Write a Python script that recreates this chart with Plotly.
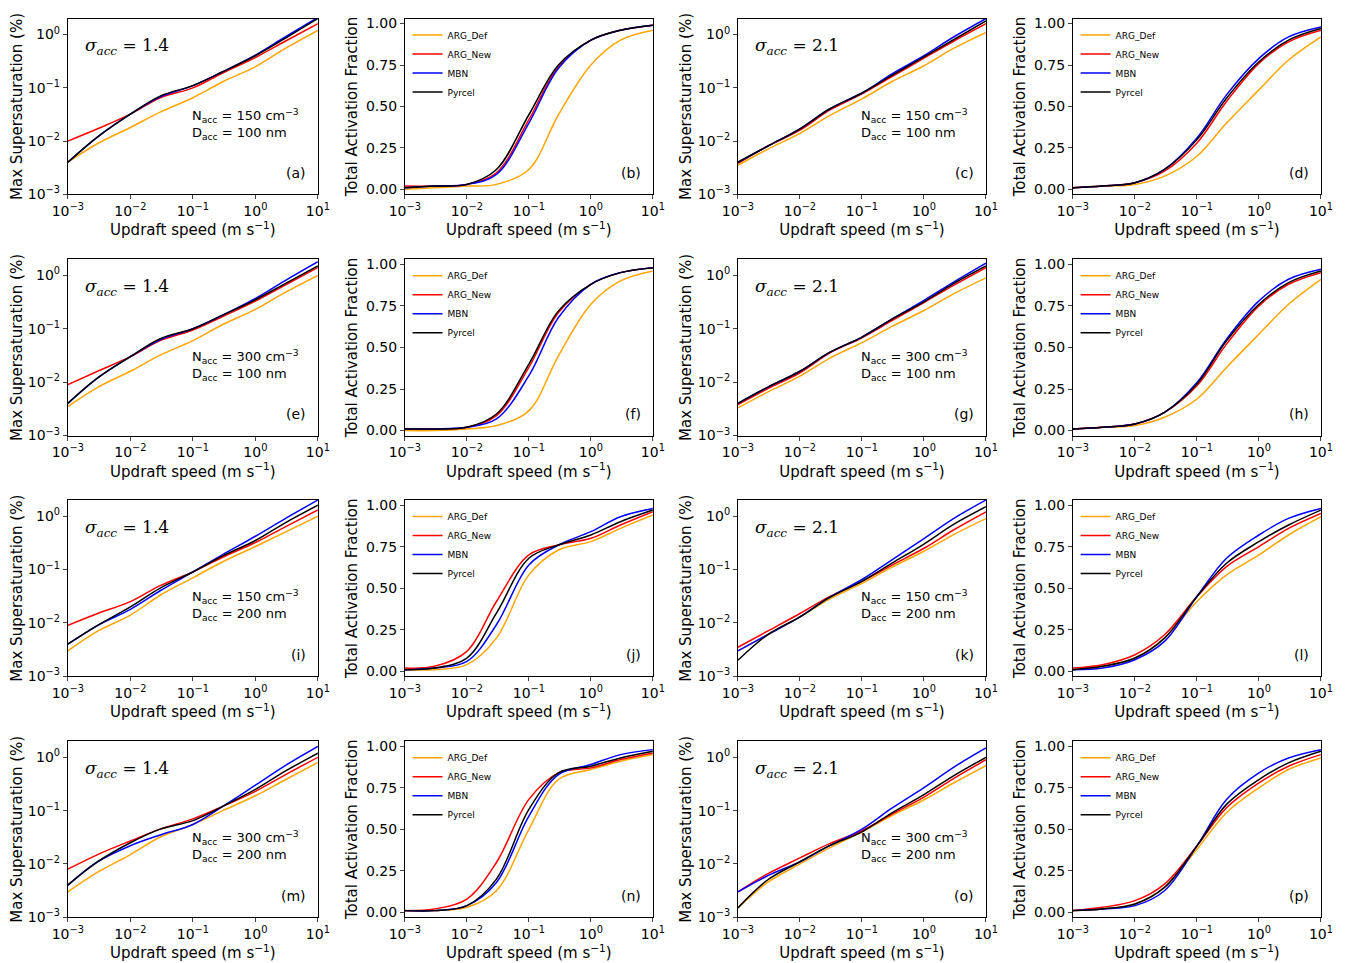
import plotly.graph_objects as go

w = [1e-3, 3e-3, 1e-2, 3e-2, 1e-1, 3e-1, 1, 3, 10]

# max supersaturation (%) panels: a c e g i k m o
a_def = [0.004, 0.009, 0.018, 0.035, 0.065, 0.13, 0.25, 0.55, 1.2]
a_new = [0.01, 0.017, 0.032, 0.065, 0.1, 0.19, 0.37, 0.75, 1.6]
a_mbn = [0.004, 0.012, 0.032, 0.068, 0.11, 0.2, 0.41, 0.9, 2.1]
a_pyr = [0.004, 0.012, 0.032, 0.07, 0.11, 0.2, 0.4, 0.85, 2.0]
c_def = [0.0035, 0.007, 0.014, 0.03, 0.062, 0.13, 0.26, 0.55, 1.1]
c_new = [0.0038, 0.008, 0.016, 0.038, 0.077, 0.16, 0.36, 0.75, 1.6]
c_mbn = [0.004, 0.008, 0.017, 0.04, 0.08, 0.18, 0.4, 0.9, 2.0]
c_pyr = [0.004, 0.008, 0.017, 0.04, 0.08, 0.17, 0.38, 0.8, 1.8]
e_def = [0.0035, 0.008, 0.016, 0.032, 0.06, 0.12, 0.23, 0.48, 1.0]
e_new = [0.009, 0.016, 0.03, 0.06, 0.095, 0.17, 0.33, 0.66, 1.4]
e_mbn = [0.004, 0.012, 0.03, 0.062, 0.1, 0.18, 0.37, 0.8, 1.8]
e_pyr = [0.004, 0.012, 0.03, 0.065, 0.1, 0.18, 0.35, 0.7, 1.5]
g_def = [0.0033, 0.0065, 0.013, 0.028, 0.055, 0.11, 0.22, 0.45, 0.9]
g_new = [0.0038, 0.0075, 0.015, 0.035, 0.068, 0.14, 0.31, 0.65, 1.4]
g_mbn = [0.004, 0.008, 0.016, 0.036, 0.07, 0.15, 0.34, 0.75, 1.7]
g_pyr = [0.004, 0.008, 0.016, 0.036, 0.07, 0.15, 0.32, 0.7, 1.5]
i_def = [0.003, 0.007, 0.014, 0.033, 0.07, 0.14, 0.27, 0.5, 1.0]
i_new = [0.009, 0.015, 0.025, 0.05, 0.09, 0.17, 0.32, 0.63, 1.3]
i_mbn = [0.004, 0.009, 0.018, 0.04, 0.09, 0.19, 0.42, 0.9, 2.0]
i_pyr = [0.004, 0.009, 0.02, 0.045, 0.09, 0.18, 0.35, 0.75, 1.6]
k_def = [0.003, 0.006, 0.013, 0.028, 0.055, 0.11, 0.22, 0.45, 0.9]
k_new = [0.0035, 0.007, 0.015, 0.031, 0.06, 0.12, 0.25, 0.55, 1.2]
k_mbn = [0.003, 0.006, 0.013, 0.03, 0.065, 0.15, 0.38, 0.9, 2.0]
k_pyr = [0.002, 0.006, 0.013, 0.03, 0.06, 0.13, 0.3, 0.7, 1.5]
m_def = [0.003, 0.007, 0.015, 0.032, 0.055, 0.1, 0.19, 0.38, 0.8]
m_new = [0.008, 0.015, 0.027, 0.045, 0.07, 0.12, 0.23, 0.47, 1.0]
m_mbn = [0.004, 0.011, 0.022, 0.035, 0.055, 0.12, 0.3, 0.7, 1.6]
m_pyr = [0.004, 0.011, 0.025, 0.045, 0.065, 0.12, 0.25, 0.55, 1.2]
o_def = [0.0015, 0.0045, 0.01, 0.02, 0.04, 0.08, 0.16, 0.33, 0.7]
o_new = [0.003, 0.0065, 0.013, 0.024, 0.042, 0.085, 0.18, 0.4, 0.9]
o_mbn = [0.003, 0.006, 0.011, 0.022, 0.045, 0.11, 0.27, 0.65, 1.5]
o_pyr = [0.0015, 0.005, 0.011, 0.022, 0.04, 0.09, 0.2, 0.45, 1.0]

# total activation fraction panels: b d f h j l n p
b_def = [0.0, 0.01, 0.02, 0.03, 0.12, 0.45, 0.75, 0.9, 0.96]
b_new = [0.02, 0.02, 0.03, 0.1, 0.42, 0.74, 0.9, 0.96, 0.99]
b_mbn = [0.01, 0.02, 0.03, 0.09, 0.4, 0.73, 0.9, 0.96, 0.99]
b_pyr = [0.01, 0.02, 0.03, 0.12, 0.45, 0.75, 0.9, 0.96, 0.99]
d_def = [0.01, 0.02, 0.03, 0.08, 0.2, 0.4, 0.6, 0.78, 0.92]
d_new = [0.01, 0.02, 0.04, 0.11, 0.28, 0.53, 0.76, 0.89, 0.96]
d_mbn = [0.01, 0.02, 0.04, 0.12, 0.31, 0.57, 0.79, 0.92, 0.98]
d_pyr = [0.01, 0.02, 0.04, 0.12, 0.3, 0.55, 0.77, 0.9, 0.97]
f_def = [0.0, 0.0, 0.01, 0.03, 0.12, 0.45, 0.76, 0.9, 0.96]
f_new = [0.01, 0.01, 0.02, 0.09, 0.38, 0.71, 0.88, 0.95, 0.98]
f_mbn = [0.01, 0.01, 0.02, 0.07, 0.33, 0.68, 0.88, 0.95, 0.98]
f_pyr = [0.01, 0.01, 0.02, 0.1, 0.4, 0.72, 0.88, 0.95, 0.98]
h_def = [0.01, 0.02, 0.03, 0.08, 0.19, 0.38, 0.58, 0.76, 0.91]
h_new = [0.01, 0.02, 0.04, 0.11, 0.27, 0.52, 0.75, 0.88, 0.95]
h_mbn = [0.01, 0.02, 0.04, 0.11, 0.29, 0.55, 0.78, 0.91, 0.97]
h_pyr = [0.01, 0.02, 0.04, 0.11, 0.28, 0.54, 0.76, 0.89, 0.96]
j_def = [0.01, 0.01, 0.04, 0.2, 0.58, 0.73, 0.78, 0.86, 0.94]
j_new = [0.02, 0.03, 0.12, 0.42, 0.7, 0.76, 0.8, 0.88, 0.96]
j_mbn = [0.01, 0.02, 0.06, 0.28, 0.64, 0.76, 0.84, 0.93, 0.98]
j_pyr = [0.01, 0.02, 0.08, 0.35, 0.68, 0.76, 0.82, 0.9, 0.97]
l_def = [0.01, 0.03, 0.08, 0.2, 0.42, 0.58, 0.7, 0.82, 0.93]
l_new = [0.02, 0.04, 0.1, 0.22, 0.45, 0.63, 0.75, 0.86, 0.95]
l_mbn = [0.01, 0.02, 0.07, 0.18, 0.45, 0.68, 0.82, 0.92, 0.98]
l_pyr = [0.01, 0.03, 0.08, 0.2, 0.45, 0.65, 0.78, 0.88, 0.97]
n_def = [0.01, 0.01, 0.03, 0.13, 0.5, 0.8, 0.86, 0.91, 0.95]
n_new = [0.01, 0.02, 0.08, 0.3, 0.68, 0.84, 0.87, 0.92, 0.96]
n_mbn = [0.01, 0.01, 0.04, 0.18, 0.58, 0.83, 0.89, 0.95, 0.98]
n_pyr = [0.01, 0.01, 0.04, 0.2, 0.62, 0.84, 0.88, 0.93, 0.97]
p_def = [0.01, 0.02, 0.05, 0.15, 0.38, 0.6, 0.75, 0.86, 0.93]
p_new = [0.01, 0.03, 0.07, 0.17, 0.4, 0.63, 0.78, 0.88, 0.95]
p_mbn = [0.01, 0.02, 0.04, 0.13, 0.4, 0.68, 0.84, 0.93, 0.98]
p_pyr = [0.01, 0.02, 0.05, 0.15, 0.4, 0.65, 0.8, 0.9, 0.97]

smax_panels = [(a_def, a_new, a_mbn, a_pyr), (c_def, c_new, c_mbn, c_pyr),
               (e_def, e_new, e_mbn, e_pyr), (g_def, g_new, g_mbn, g_pyr),
               (i_def, i_new, i_mbn, i_pyr), (k_def, k_new, k_mbn, k_pyr),
               (m_def, m_new, m_mbn, m_pyr), (o_def, o_new, o_mbn, o_pyr)]
act_panels = [(b_def, b_new, b_mbn, b_pyr), (d_def, d_new, d_mbn, d_pyr),
              (f_def, f_new, f_mbn, f_pyr), (h_def, h_new, h_mbn, h_pyr),
              (j_def, j_new, j_mbn, j_pyr), (l_def, l_new, l_mbn, l_pyr),
              (n_def, n_new, n_mbn, n_pyr), (p_def, p_new, p_mbn, p_pyr)]

names = ['ARG_Def', 'ARG_New', 'MBN', 'Pyrcel']
colors = ['orange', 'red', 'blue', 'black']
sigmas = ['1.4', '2.1']
n_acc = ['150', '300', '150', '300']
d_acc = ['100', '100', '200', '200']
letters = 'abcdefghijklmnop'

xdom = [(0.0444, 0.2299), (0.2944, 0.4784), (0.5415, 0.7255), (0.790, 0.974)]
ydom = [(0.8065, 0.989), (0.556, 0.739), (0.306, 0.489), (0.0558, 0.2385)]

dec_vals = [1e-3, 1e-2, 1e-1, 1e0, 1e1]
dec_text = ['10<sup>−3</sup>', '10<sup>−2</sup>', '10<sup>−1</sup>', '10<sup>0</sup>', '10<sup>1</sup>']

fig = go.Figure()
layout = dict(width=1348, height=963, margin=dict(l=0, r=0, t=0, b=0),
              plot_bgcolor='white', paper_bgcolor='white',
              font=dict(family='DejaVu Sans', color='black', size=14),
              annotations=[])
lab = dict(family='DejaVu Sans', size=15, color='black')
tickf = dict(family='DejaVu Sans', size=14, color='black')

for r in range(4):
    for c in range(4):
        idx = r * 4 + c
        n = idx + 1
        ax = '' if n == 1 else str(n)
        is_act = c % 2 == 1
        li = r * 2 + c // 2
        pan = (act_panels if is_act else smax_panels)[li]
        leg = 'legend' if li == 0 else 'legend' + str(li + 1)
        for k in range(4):
            fig.add_trace(go.Scatter(
                x=w, y=pan[k], mode='lines', name=names[k],
                line=dict(color=colors[k], width=1.5, shape='spline'),
                xaxis='x' + ax, yaxis='y' + ax,
                showlegend=is_act, legend=leg))
        layout['xaxis' + ax] = dict(
            domain=list(xdom[c]), anchor='y' + ax, type='log', range=[-3, 1],
            tickvals=dec_vals, ticktext=dec_text, ticks='outside', ticklen=4,
            showline=True, linecolor='black', mirror=True, showgrid=False, automargin=False,
            tickfont=tickf, title=dict(text='Updraft speed (m s<sup>−1</sup>)', font=lab, standoff=0))
        if is_act:
            layout['yaxis' + ax] = dict(
                domain=list(ydom[r]), anchor='x' + ax, range=[-0.03, 1.03],
                tickvals=[0, 0.25, 0.5, 0.75, 1.0], ticktext=['0.00', '0.25', '0.50', '0.75', '1.00'],
                ticks='outside', ticklen=4, showline=True, linecolor='black', mirror=True,
                showgrid=False, zeroline=False, tickfont=tickf, automargin=False,
                title=dict(text='Total Activation Fraction', font=lab, standoff=4))
            layout[leg] = dict(
                x=xdom[c][0] + 0.002, y=ydom[r][1] - 0.002, xanchor='left', yanchor='top',
                bgcolor='rgba(255,255,255,0)', font=dict(size=9, family='DejaVu Sans'),
                itemwidth=30, tracegroupgap=0)
        else:
            layout['yaxis' + ax] = dict(
                domain=list(ydom[r]), anchor='x' + ax, type='log', range=[-3, 0.3],
                tickvals=[1e-3, 1e-2, 1e-1, 1e0], ticktext=dec_text[:4],
                ticks='outside', ticklen=4, showline=True, linecolor='black', mirror=True,
                showgrid=False, tickfont=tickf, automargin=False,
                title=dict(text='Max Supersaturation (%)', font=lab, standoff=2))
            layout['annotations'].append(dict(
                xref='x' + ax + ' domain', yref='y' + ax + ' domain', x=0.06, y=0.84,
                xanchor='left', yanchor='middle', showarrow=False,
                text='<i>σ<sub>acc</sub></i> = ' + sigmas[c // 2], font=dict(size=17, family='DejaVu Serif')))
            layout['annotations'].append(dict(
                xref='x' + ax + ' domain', yref='y' + ax + ' domain', x=0.49, y=0.4,
                xanchor='left', yanchor='middle', showarrow=False, align='left',
                text='N<sub>acc</sub> = ' + n_acc[r] + ' cm<sup>−3</sup><br>D<sub>acc</sub> = ' + d_acc[r] + ' nm',
                font=dict(size=13)))
        layout['annotations'].append(dict(
            xref='x' + ax + ' domain', yref='y' + ax + ' domain', x=0.96, y=0.12,
            xanchor='right', yanchor='middle', showarrow=False,
            text='(' + letters[idx] + ')', font=dict(size=14)))

fig.update_layout(**layout)
fig.write_html('out.html')
